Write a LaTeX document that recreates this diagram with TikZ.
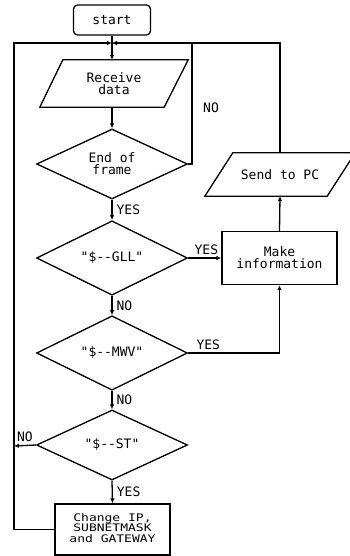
\documentclass[tikz,border=0pt]{standalone}
\usepackage{fontspec}
\setmainfont[Ligatures=TeXOff]{DejaVu Sans Mono}
\usetikzlibrary{arrows.meta,shapes.geometric}
\begin{document}
\begin{tikzpicture}[x=1pt,y=-1pt,
  every node/.style={font=\fontsize{13pt}{12pt}\selectfont, inner sep=0pt, align=center},
  ln/.style={line width=1.3pt},
  arr/.style={ln,-{Latex[length=5pt,width=4.5pt]}},
  term/.style={draw,line width=1.3pt,rounded corners=4pt,minimum width=77pt,minimum height=30pt},
  dec/.style={draw,line width=1.3pt,diamond,minimum width=151pt,minimum height=70pt},
  proc/.style={draw,line width=1.3pt,minimum width=115pt,minimum height=53pt},
  iobox/.style={minimum width=#1,minimum height=45pt},
  lbl/.style={font=\fontsize{13pt}{12pt}\selectfont}
]
\useasboundingbox (0,0) rectangle (350,556);
% nodes
\node[term] (start) at (112,20) {start};
\node[iobox=148pt,minimum height=47pt] (recv) at (114,83.5) {Receive\\data};
\draw[ln] (recv.south west) -- ([xshift=-24pt]recv.south east) -- (recv.north east) -- ([xshift=23pt]recv.north west) -- cycle;
\node[dec] (eof) at (112,164) {End of\\frame};
\node[dec] (gll) at (112,258) {"\$--GLL"};
\node[dec] (mwv) at (112,353) {"\$--MWV"};
\node[dec] (st) at (112,445) {"\$--ST"};
\node[proc] (make) at (279.5,258) {Make\\information};
\node[iobox=150pt,minimum height=43pt] (send) at (280,174.5) {Send to PC};
\draw[ln] (send.south west) -- ([xshift=-28pt]send.south east) -- (send.north east) -- ([xshift=28pt]send.north west) -- cycle;
\node[proc,minimum width=115pt,minimum height=51pt] (chg) at (112.5,529.5) {\scalebox{1}[0.8]{\begin{tabular}{@{}c@{}}Change IP,\\SUBNETMASK\\and GATEWAY\end{tabular}}};
% coordinates
\coordinate (m) at (112,43);
\coordinate (tl) at (14,43);
\coordinate (r1) at (192,43);
\coordinate (lft) at (14,446);
% connectors
\draw[ln] (start.south) -- (m);
\draw[arr] (m) -- (recv.north -| m);
\draw[arr] (recv.south -| m) -- (eof.north);
\draw[arr] (eof.east) -| (r1) -- (m);
\draw[arr] (send.north) |- (m);
\draw[arr] (chg.west) -| (tl) -- (m);
\draw[arr] (eof.south) -- node[lbl,right=4pt]{YES} (gll.north);
\draw[arr] (gll.east) -- node[lbl,above=3pt,pos=0.55]{YES} (make.west);
\draw[arr] (gll.south) -- node[lbl,right=4pt]{NO} (mwv.north);
\draw[arr] (mwv.east) -| node[lbl,above=3pt,pos=0.11]{YES} (make.south);
\draw[arr] (mwv.south) -- node[lbl,right=4pt]{NO} (st.north);
\draw[arr] (st.west) -- node[lbl,above=3pt]{NO} (lft);
\draw[arr] (st.south) -- node[lbl,right=4pt]{YES} (chg.north);
\draw[arr] (make.north) -- (send.south);
\node[lbl] (no1) at (211,108) {NO};
\end{tikzpicture}
\end{document}
